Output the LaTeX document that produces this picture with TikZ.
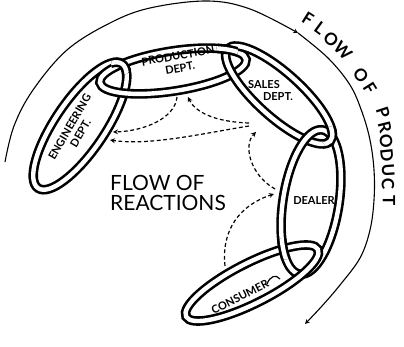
\documentclass[tikz,border=0pt]{standalone}
\usepackage{fontspec}
\setmainfont{Lato}
\usetikzlibrary{intersections}

\begin{document}
\begin{tikzpicture}[x=1pt, y=-1pt, >=stealth,
  chain/.style={line width=2.6pt, double=white, double distance=4.4pt},
  react/.style={->, line width=1.2pt, dash pattern=on 3.8pt off 2.6pt},
  lbl/.style={font=\bfseries\fontsize{11}{12.5}\selectfont, align=center, inner sep=0pt},
  fptxt/.style={font=\bfseries\fontsize{17}{17}\selectfont, inner sep=0pt},
  englink/.style={shift={(80,126)}, rotate=56},
  prodlink/.style={shift={(173,71)}, rotate=9},
  saleslink/.style={shift={(279,95)}, rotate=-42},
  dealerlink/.style={shift={(311,202)}, rotate=81},
  conslink/.style={shift={(252,283)}, rotate=27}]
  \useasboundingbox (0,0) rectangle (404,347);

  \draw[chain, englink, name path=eng] (0,0) ellipse (75pt and 25pt);
  \draw[chain, prodlink, name path=prod] (0,0) ellipse (74pt and 20pt);
  \draw[chain, saleslink, name path=sales] (0,0) ellipse (69pt and 22pt);
  \draw[chain, dealerlink, name path=dealer] (0,0) ellipse (73pt and 28pt);
  \draw[chain, conslink, name path=cons] (0,0) ellipse (74pt and 20pt);

  \path[name intersections={of=eng and prod, by={ep1,ep2}}];
  \path[name intersections={of=prod and sales, by={ps1,ps2}}];
  \path[name intersections={of=sales and dealer, by={sd1,sd2}}];
  \path[name intersections={of=dealer and cons, by={dc1,dc2}}];
  \begin{scope}
    \clip (ep1) circle (11pt);
    \draw[chain, englink] (0,0) ellipse (75pt and 25pt);
  \end{scope}
  \begin{scope}
    \clip (ps1) circle (11pt);
    \draw[chain, prodlink] (0,0) ellipse (74pt and 20pt);
  \end{scope}
  \begin{scope}
    \clip (sd1) circle (11pt);
    \draw[chain, saleslink] (0,0) ellipse (69pt and 22pt);
  \end{scope}
  \begin{scope}
    \clip (dc1) circle (11pt);
    \draw[chain, dealerlink] (0,0) ellipse (73pt and 28pt);
  \end{scope}

  \node[lbl, rotate=60] (englbl) at (75,130) {ENGINEERING\\DEPT.};
  \node[lbl, rotate=10] (prodlbl) at (179,62) {PRODUCTION\\DEPT.};
  \node[lbl] (saleslbl) at (264,85) {SALES};
  \node[lbl] (salesdept) at (278,97) {DEPT.};
  \node[lbl] (dealerlbl) at (314,201) {DEALER};
  \node[lbl, rotate=27] (conslbl) at (240,297) {CONSUMER};
  \draw[line width=1.2pt] (267,284) .. controls (270,276) and (276,274) .. (280,279);
  \node[font=\fontsize{21}{20}\selectfont, align=left, anchor=west, inner sep=0pt] (reactlbl) at (110,193) {FLOW OF\\REACTIONS};

  \coordinate (engA) at (113,132);
  \coordinate (engB) at (110,140);
  \coordinate (prodA) at (177,97);
  \coordinate (prodB) at (188,97);
  \coordinate (salesA) at (249,123);
  \coordinate (salesB) at (249,126);
  \coordinate (salesC) at (256,132);
  \coordinate (dealerA) at (275,189);
  \coordinate (dealerB) at (274,194);
  \coordinate (consA) at (225,266);
  \draw[react] (prodA) .. controls (175,118) and (145,131) .. (engA);
  \draw[react] (salesA) .. controls (215,122) and (195,112) .. (prodB);
  \draw[react] (salesB) .. controls (205,133) and (150,146) .. (engB);
  \draw[react] (dealerA) .. controls (250,175) and (243,145) .. (salesC);
  \draw[react] (consA) .. controls (221,230) and (240,205) .. (dealerB);

  \draw[->, line width=1.1pt] plot[smooth, tension=0.6] coordinates {(5,162) (14,126) (33,90) (67,50) (110,23) (150,8) (207,1) (250,9) (298,33)};
  \draw[->, line width=1.1pt] plot[smooth, tension=0.6] coordinates {(298,33) (328,58) (350,85) (362,112) (370,140) (374,170) (374,200) (370,230) (360,258) (340,285) (322,306) (305,324)};
  \foreach \ch/\x/\y/\ang [count=\i] in {F/308/19/-32, L/320/28/-36, O/331/39/-41, W/343/51/-46, O/361/75/-53, F/370/88/-58, P/383/113/-72, R/385/127/-76, O/386/141/-80, D/387/155/-84, U/388/170/-86, C/388/184/-88, T/389/201/-90}
    \node[fptxt, rotate=\ang] (fp\i) at (\x,\y) {\ch};
\end{tikzpicture}
\end{document}
